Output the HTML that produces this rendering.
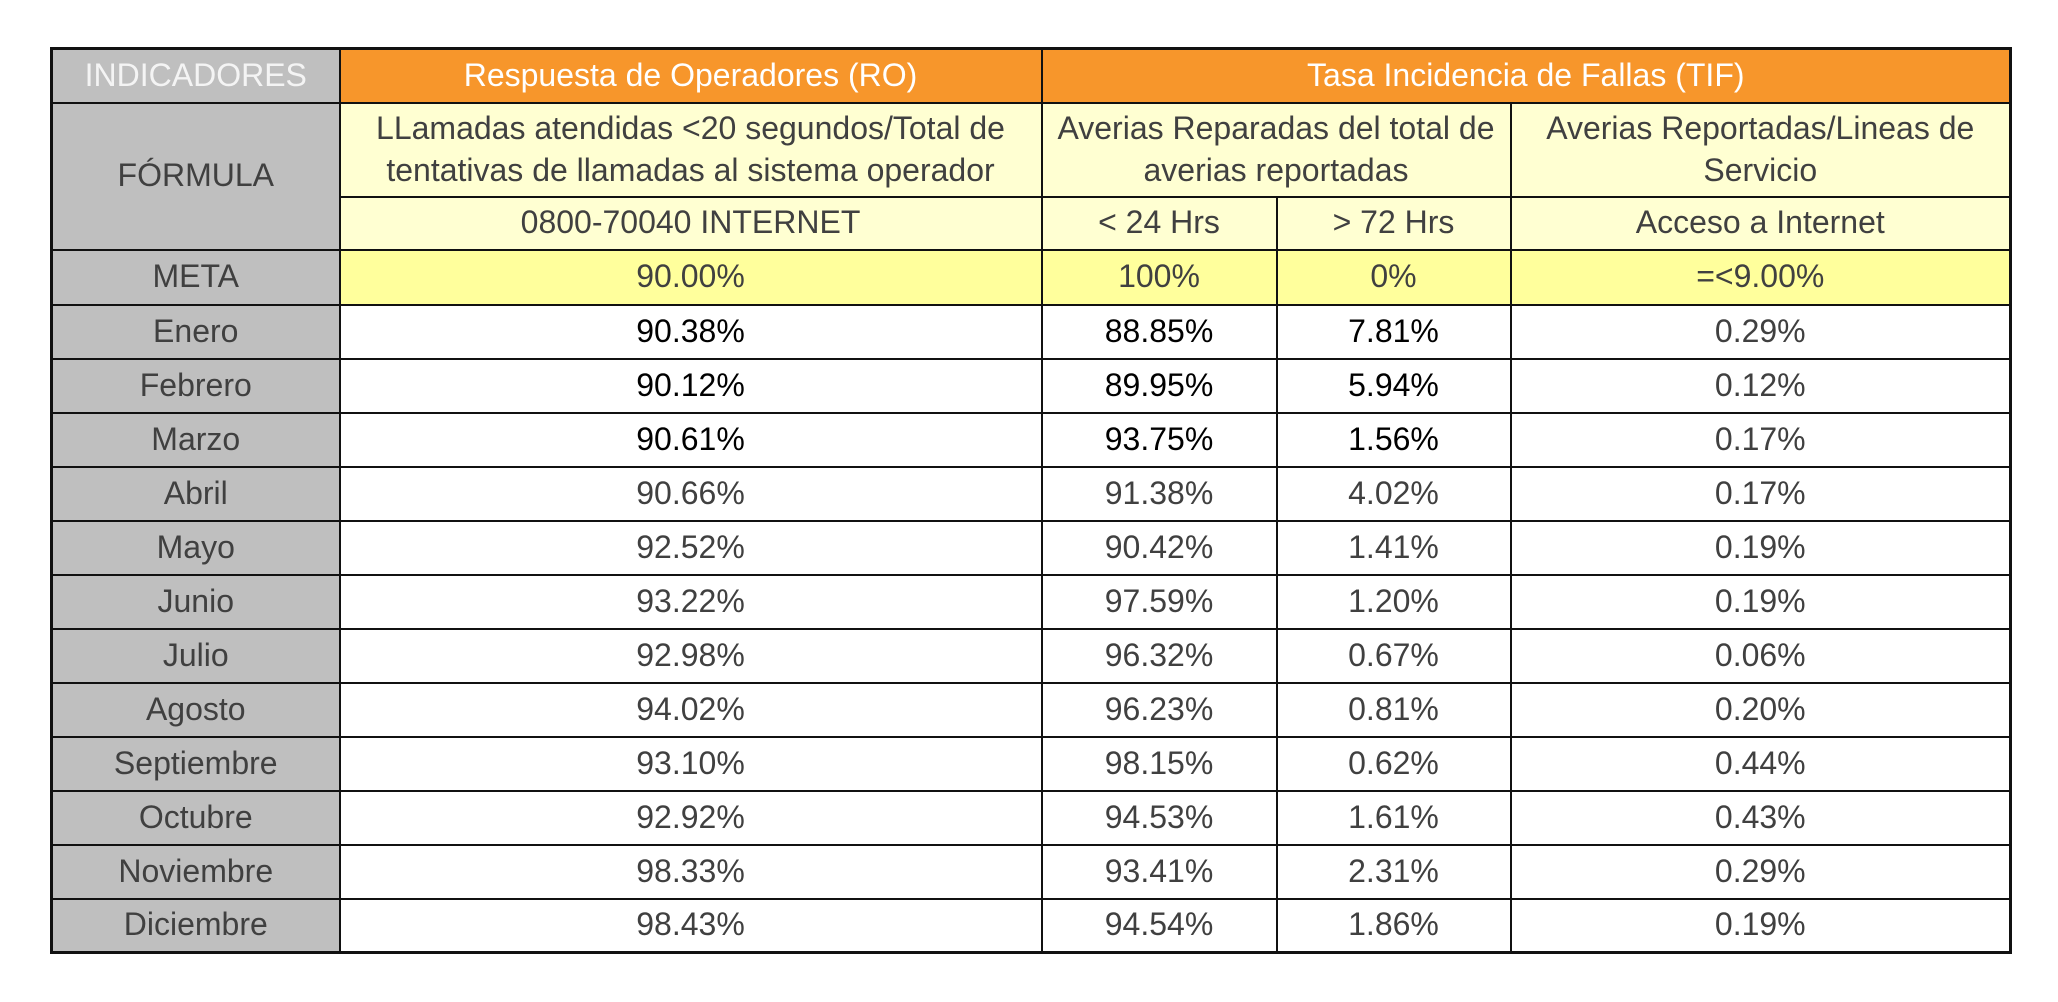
<!DOCTYPE html>
<html><head><meta charset="utf-8"><style>
html,body{margin:0;padding:0;background:#fff;width:2058px;height:1002px;overflow:hidden}
table{position:absolute;left:50px;top:47px;width:1959px;border-collapse:collapse;table-layout:fixed;border:3px solid #111;
font-family:"Liberation Sans Narrow","Liberation Sans",sans-serif;font-size:32px;color:#404040}
td{border:2px solid #111;text-align:center;vertical-align:middle;padding:0;line-height:1.3}
td.l{background:#bfbfbf;color:#404040}
tr.h{height:54px}
tr.h td{background:#f7962b;color:#fff}
tr.h td.l{background:#bfbfbf;color:#f4f4f4}
.f td{background:#ffffd2}
.f td.l{background:#bfbfbf}
tr.m td{background:#ffff9c}
tr.m td.l{background:#bfbfbf}
tr.d{height:54px}
tr.b td{color:#000}
tr.b td.l{color:#404040}
</style></head><body>
<table>
<colgroup><col style="width:288px"><col style="width:702px"><col style="width:235px"><col style="width:234px"><col style="width:500px"></colgroup>
<tr class="h"><td class="l">INDICADORES</td><td>Respuesta de Operadores (RO)</td><td colspan="3">Tasa Incidencia de Fallas (TIF)</td></tr>
<tr class="f" style="height:94px"><td class="l" rowspan="2">FÓRMULA</td><td>LLamadas atendidas &lt;20 segundos/Total de tentativas de llamadas al sistema operador</td><td colspan="2">Averias Reparadas del total de averias reportadas</td><td>Averias Reportadas/Lineas de Servicio</td></tr>
<tr class="f" style="height:53px"><td>0800-70040 INTERNET</td><td>&lt; 24 Hrs</td><td>&gt; 72 Hrs</td><td>Acceso a Internet</td></tr>
<tr class="m" style="height:55px"><td class="l">META</td><td>90.00%</td><td>100%</td><td>0%</td><td>=&lt;9.00%</td></tr>
<tr class="d b"><td class="l">Enero</td><td>90.38%</td><td>88.85%</td><td>7.81%</td><td style="color:#404040">0.29%</td></tr>
<tr class="d b"><td class="l">Febrero</td><td>90.12%</td><td>89.95%</td><td>5.94%</td><td style="color:#404040">0.12%</td></tr>
<tr class="d b"><td class="l">Marzo</td><td>90.61%</td><td>93.75%</td><td>1.56%</td><td style="color:#404040">0.17%</td></tr>
<tr class="d"><td class="l">Abril</td><td>90.66%</td><td>91.38%</td><td>4.02%</td><td>0.17%</td></tr>
<tr class="d"><td class="l">Mayo</td><td>92.52%</td><td>90.42%</td><td>1.41%</td><td>0.19%</td></tr>
<tr class="d"><td class="l">Junio</td><td>93.22%</td><td>97.59%</td><td>1.20%</td><td>0.19%</td></tr>
<tr class="d"><td class="l">Julio</td><td>92.98%</td><td>96.32%</td><td>0.67%</td><td>0.06%</td></tr>
<tr class="d"><td class="l">Agosto</td><td>94.02%</td><td>96.23%</td><td>0.81%</td><td>0.20%</td></tr>
<tr class="d"><td class="l">Septiembre</td><td>93.10%</td><td>98.15%</td><td>0.62%</td><td>0.44%</td></tr>
<tr class="d"><td class="l">Octubre</td><td>92.92%</td><td>94.53%</td><td>1.61%</td><td>0.43%</td></tr>
<tr class="d"><td class="l">Noviembre</td><td>98.33%</td><td>93.41%</td><td>2.31%</td><td>0.29%</td></tr>
<tr class="d"><td class="l">Diciembre</td><td>98.43%</td><td>94.54%</td><td>1.86%</td><td>0.19%</td></tr>
</table>
</body></html>
